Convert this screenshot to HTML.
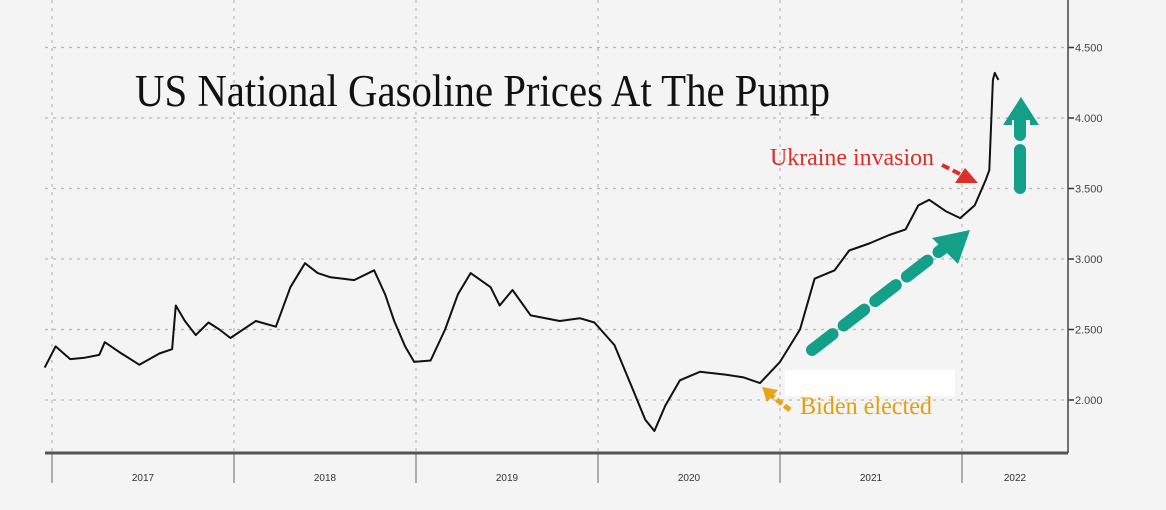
<!DOCTYPE html>
<html><head><meta charset="utf-8"><style>
html,body{margin:0;padding:0;background:#f4f4f4;}
svg{display:block;}
</style></head><body>
<svg id="chart" width="1166" height="510" viewBox="0 0 1166 510" xmlns="http://www.w3.org/2000/svg">
<rect x="0" y="0" width="1166" height="510" fill="#f4f4f4"/>
<g id="grid"></g>
<g id="axes"></g>
<text x="135" y="106" font-family="Liberation Serif, serif" font-size="45" fill="#111" textLength="695" lengthAdjust="spacingAndGlyphs">US National Gasoline Prices At The Pump</text>
<rect x="785" y="370" width="170" height="26" fill="#ffffff"/>
<g id="series"></g>
<text x="770" y="165" font-family="Liberation Serif, serif" font-size="24" fill="#d9302a" textLength="164" lengthAdjust="spacingAndGlyphs">Ukraine invasion</text>
<path d="M942,165 L962,175" stroke="#d9302a" stroke-width="4" stroke-dasharray="8,4" fill="none"/>
<polygon points="955,183 978,183 965,168" fill="#d9302a"/>
<text x="800" y="414" font-family="Liberation Serif, serif" font-size="25" fill="#e0a010" textLength="132" lengthAdjust="spacingAndGlyphs">Biden elected</text>
<path d="M790,410 L772,396" stroke="#e8a418" stroke-width="5" stroke-dasharray="7,3" fill="none"/>
<polygon points="762,387 778,390 767,402" fill="#e8a418"/>
<path d="M812,350 L945,247" stroke="#14a088" stroke-width="12" stroke-dasharray="26,14" stroke-linecap="round" fill="none"/>
<polygon points="932,238 970,230 958,264" fill="#14a088"/>
<path d="M1020,188 L1020,150 M1020,135 L1020,118" stroke="#14a088" stroke-width="12" stroke-linecap="round" fill="none"/>
<polygon points="1003,125 1021,97 1039,125 1030,125 1030,120 1012,120 1012,125" fill="#14a088"/>
</svg>
<script>
const dates=[2016.96,2017.02,2017.10,2017.18,2017.26,2017.29,2017.37,2017.48,2017.59,2017.66,2017.68,2017.73,2017.79,2017.86,2017.92,2017.98,2018.12,2018.23,2018.31,2018.39,2018.46,2018.53,2018.60,2018.66,2018.77,2018.83,2018.88,2018.94,2018.99,2019.08,2019.16,2019.23,2019.30,2019.41,2019.46,2019.53,2019.63,2019.79,2019.90,2019.98,2020.09,2020.18,2020.26,2020.31,2020.37,2020.45,2020.56,2020.70,2020.80,2020.89,2021.00,2021.11,2021.19,2021.30,2021.38,2021.49,2021.60,2021.69,2021.76,2021.82,2021.91,2021.99,2022.07,2022.13,2022.15,2022.17,2022.18,2022.20];
const prices=[2.23,2.38,2.29,2.30,2.32,2.41,2.34,2.25,2.33,2.36,2.67,2.56,2.46,2.55,2.50,2.44,2.56,2.52,2.80,2.97,2.90,2.87,2.86,2.85,2.92,2.75,2.56,2.38,2.27,2.28,2.50,2.75,2.90,2.80,2.67,2.78,2.60,2.56,2.58,2.55,2.39,2.11,1.86,1.78,1.96,2.14,2.20,2.18,2.16,2.12,2.27,2.50,2.86,2.92,3.06,3.11,3.17,3.21,3.38,3.42,3.34,3.29,3.38,3.56,3.63,4.27,4.32,4.27];
const yTicks=[2.0,2.5,3.0,3.5,4.0,4.5];
const yTickLabels=["2.000","2.500","3.000","3.500","4.000","4.500"];
const years=[2017,2018,2019,2020,2021,2022];
const yearLabels=["2017","2018","2019","2020","2021","2022"];
const NS="http://www.w3.org/2000/svg";
function xs(t){return 52+(t-2017)*182;}
function ys(v){return 400-(v-2.0)*141;}
function mk(tag,attrs,parent){const e=document.createElementNS(NS,tag);for(const k in attrs)e.setAttribute(k,attrs[k]);parent.appendChild(e);return e;}
const grid=document.getElementById('grid'),axes=document.getElementById('axes'),series=document.getElementById('series');
yTicks.forEach((v,i)=>{
 const l=mk('line',{x1:45,x2:1068,y1:ys(v),y2:ys(v),stroke:'#b8b8b8','stroke-width':1.2,'stroke-dasharray':'3,5'},grid);
 
 
 const tk=mk('line',{x1:1068,x2:1074,y1:ys(v),y2:ys(v),stroke:'#333','stroke-width':1.5},axes);
 
 
 const tx=mk('text',{x:1075,y:ys(v)+4,'font-family':'Liberation Sans, sans-serif','font-size':11,fill:'#444'},axes);
 tx.textContent=yTickLabels[i];
 
 
});
years.forEach((yr,i)=>{
 const x=xs(yr);
 const g=mk('line',{x1:x,x2:x,y1:0,y2:453,stroke:'#b8b8b8','stroke-width':1.2,'stroke-dasharray':'3,5'},grid);
 
 
 const d=mk('line',{x1:x,x2:x,y1:453,y2:483,stroke:'#666','stroke-width':1},axes);
 
 
 const nx=i<years.length-1?xs(years[i+1]):1068;
 const tx=mk('text',{x:(x+nx)/2,y:481,'text-anchor':'middle','font-family':'Liberation Sans, sans-serif','font-size':10,fill:'#333'},axes);
 tx.textContent=yearLabels[i];
 
 
});
const ax=mk('line',{x1:45,x2:1068,y1:453,y2:453,stroke:'#555','stroke-width':3},axes);


const ay=mk('line',{x1:1068,x2:1068,y1:0,y2:453,stroke:'#444','stroke-width':1.5},axes);


const pts=dates.map((t,i)=>xs(t).toFixed(1)+','+ys(prices[i]).toFixed(1)).join(' ');
const pl=mk('polyline',{points:pts,fill:'none',stroke:'#111','stroke-width':2,'stroke-linejoin':'round'},series);


</script>
</body></html>
